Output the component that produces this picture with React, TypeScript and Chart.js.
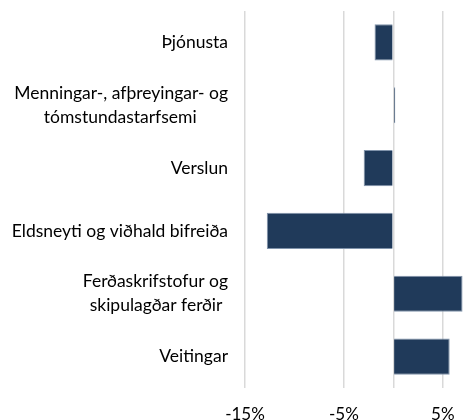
import React, { useEffect, useRef } from 'react';
import { Chart, registerables } from 'chart.js';

Chart.register(...registerables);

const categories: (string | string[])[] = [
  'Þjónusta',
  ['Menningar-, afþreyingar- og', 'tómstundastarfsemi       '],
  'Verslun',
  'Eldsneyti og viðhald bifreiða',
  ['Ferðaskrifstofur og', 'skipulagðar ferðir \u200a'],
  'Veitingar',
];
const values = [-1.9, 0.2, -3.0, -12.8, 7.0, 5.7];
const xTicks = [-15, -5, 0, 5];
const xLabels = ['-15%', '-5%', '', '5%'];

export default function App() {
  const ref = useRef<HTMLCanvasElement>(null);
  useEffect(() => {
    if (!ref.current) return;
    const chart = new Chart(ref.current, {
      type: 'bar',
      data: {
        labels: categories,
        datasets: [
          {
            data: values,
            backgroundColor: '#203a5a',
            borderColor: '#8093ab',
            borderWidth: 1,
            categoryPercentage: 1,
            barPercentage: 0.575,
          },
        ],
      },
      options: {
        indexAxis: 'y',
        animation: false,
        responsive: true,
        maintainAspectRatio: false,
        layout: { padding: { top: 11, right: 0, left: 0, bottom: 0 } },
        plugins: { legend: { display: false }, tooltip: { enabled: false }, title: { display: false } },
        scales: {
          x: {
            min: -15,
            max: 7.45,
            afterBuildTicks: (s: any) => {
              s.ticks = xTicks.map((v) => ({ value: v }));
            },
            afterFit: (s: any) => {
              s.height = 32;
              s.paddingLeft = 0;
              s.paddingRight = 0;
            },
            ticks: {
              font: { family: 'Lato', size: 17 },
              color: '#000',
              padding: 16,
              maxRotation: 0,
              autoSkip: false,
              callback: (v: any) => xLabels[xTicks.indexOf(Number(v))] ?? '',
            },
            grid: { color: '#d9d9d9', lineWidth: 1.5, drawTicks: false },
            border: { display: false },
          },
          y: {
            afterFit: (s: any) => {
              s.width = 245;
              s.paddingTop = 0;
              s.paddingBottom = 0;
            },
            ticks: { font: { family: 'Lato', size: 17.5, lineHeight: 1.37 }, color: '#000', padding: 17 },
            grid: { display: false, drawTicks: false },
            border: { display: false },
          },
        },
      },
    });
    return () => chart.destroy();
  }, []);
  return (
    <div style={{ position: 'absolute', left: 0, top: 0, width: 467, height: 420 }}>
      <canvas ref={ref} />
    </div>
  );
}
